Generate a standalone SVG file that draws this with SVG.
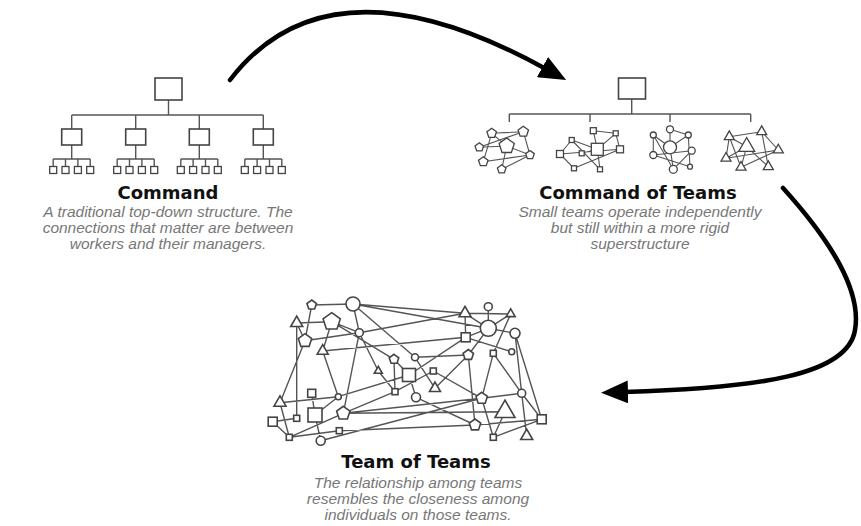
<svg xmlns="http://www.w3.org/2000/svg" width="861" height="526" viewBox="0 0 861 526">
<style>
.bg{fill:#fff}
.ln{stroke:#555;stroke-width:1.4;fill:none}
.nd{fill:#fff;stroke:#444;stroke-width:1.6}
.nds{fill:#fff;stroke:#444;stroke-width:1.3}
.arrow{stroke:#000;stroke-width:4.5;fill:none;stroke-linecap:round}
.title{font-family:"DejaVu Sans",sans-serif;font-weight:bold;font-size:18px;fill:#111;text-anchor:middle}
.sub{font-family:"Liberation Sans",Arial,sans-serif;font-style:italic;font-size:15.5px;fill:#777;text-anchor:middle}
</style>
<defs>
<marker id="ah" markerUnits="userSpaceOnUse" markerWidth="27" markerHeight="23" viewBox="0 0 27 23" refX="4" refY="11.5" orient="auto">
<path d="M0,0 L27,11.5 L0,23 z" fill="#000"/>
</marker>
</defs>
<rect class="bg" x="0" y="0" width="861" height="526"/>

<g id="connectors">
<!-- big arrows -->
<path class="arrow" d="M230,80 Q330,-50 546,69" marker-end="url(#ah)"/>
<path class="arrow" d="M783,188 C830,240 862,290 855,330 C848,375 760,388 624,392" marker-end="url(#ah)"/>

<!-- Command tree -->
<path class="ln" d="M168.5,100 V115 M71.7,115 H263.3 M71.7,115 V129 M135.7,115 V129 M199.3,115 V129 M263.3,115 V129"/>
<path class="ln" d="M71.7,145 V159 M53.2,159 H90.2 M53.2,159 V166.5 M65.5,159 V166.5 M77.9,159 V166.5 M90.2,159 V166.5"/>
<path class="ln" d="M135.7,145 V159 M117.2,159 H154.2 M117.2,159 V166.5 M129.5,159 V166.5 M141.9,159 V166.5 M154.2,159 V166.5"/>
<path class="ln" d="M199.3,145 V159 M180.8,159 H217.8 M180.8,159 V166.5 M193.1,159 V166.5 M205.5,159 V166.5 M217.8,159 V166.5"/>
<path class="ln" d="M263.3,145 V159 M244.8,159 H281.8 M244.8,159 V166.5 M257.1,159 V166.5 M269.5,159 V166.5 M281.8,159 V166.5"/>

<!-- Command of Teams tree -->
<path class="ln" d="M631.7,99 V114 M509.3,114 H750.7 M509.3,114 V122 M590,114 V122 M670,114 V122 M750.7,114 V122"/>

<!-- cluster 1 pentagons -->
<path class="ln" style="stroke-width:1.1" d="M491.7,133.3 L523.3,131.7 M491.7,133.3 L506.7,146 M479.3,147.3 L506.7,146 M506.7,146 L530,155 M491.7,133.3 L483.3,161.7 M523.3,131.7 L530,155 M483.3,161.7 L530,155 M501.7,169.3 L530,155 M506.7,146 L501.7,169.3 M479.3,147.3 L523.3,131.7"/>
<!-- cluster 2 squares -->
<path class="ln" style="stroke-width:1.1" d="M593.3,130.7 L615.7,133.3 M593.3,130.7 L597.3,149.3 M571.7,140 L597.3,149.3 M571.7,140 L560,154 M560,154 L620,149.3 M615.7,133.3 L620,149.3 M574,168.3 L620,149.3 M597.3,149.3 L600,169.3 M571.7,140 L600,169.3 M560,154 L574,168.3 M581.7,153.3 L597.3,149.3 M615.7,133.3 L597.3,149.3"/>
<!-- cluster 3 circles -->
<path class="ln" style="stroke-width:1.1" d="M670,129.3 L670,147.3 M653.3,135 L670,147.3 M688.3,135 L670,147.3 M653.3,135 L653.3,155 M653.3,155 L691.7,150.7 M670,147.3 L673.3,169.3 M688.3,135 L690,166.7 M691.7,150.7 L673.3,169.3 M670,129.3 L688.3,135 M653.3,155 L690,166.7 M653.3,135 L673.3,169.3"/>
<!-- cluster 4 triangles -->
<path class="ln" style="stroke-width:1.1" d="M729.3,136.7 L761.7,131.7 M729.3,136.7 L741,167.3 M761.7,131.7 L778.3,150 M761.7,131.7 L768.3,166.7 M726,158.3 L778.3,150 M726,158.3 L746.7,146.7 M746.7,146.7 L741,167.3 M741,167.3 L778.3,150 M746.7,146.7 L768.3,166.7 M729.3,136.7 L726,158.3 M729.3,136.7 L746.7,146.7"/>

<!-- Team of Teams network -->
<path class="ln" d="M311.7,305 L353,304 M311.7,305 L305,340.7 M296.7,323 L331.7,321.7 M353,304 L359.3,332.7 M353,304 L465,313.3 M353,304 L415,357.3 M353,304 L488.3,328.3 M331.7,321.7 L359.3,332.7 M359.3,332.7 L465,313.3 M305,340.7 L359.3,332.7 M322.7,351 L465.7,337.3 M331.7,321.7 L322.7,351 M331.7,321.7 L394,359.3 M359.3,332.7 L378.3,371 M322.7,351 L338.3,396.7 M359.3,332.7 L343.3,413.3 M305,340.7 L280,402.7 M296.7,323 L296.7,418.3 M394,359.3 L409,375 M394,359.3 L395,391.7 M378.3,371 L395,391.7 M338.3,396.7 L409,375 M315,415 L338.3,396.7 M395,391.7 L343.3,413.3 M280,402.7 L338.3,396.7 M272.7,421.7 L296.7,418.3 M315,415 L320.7,440.7 M289.3,437.3 L343.3,413.3 M289.3,437.3 L339.3,430.7 M272.7,421.7 L289.3,437.3 M280,402.7 L289.3,437.3 M343.3,413.3 L481.7,398.3 M339.3,430.7 L475,425 M320.7,440.7 L481.7,398.3 M465,313.3 L510.7,314 M488.3,306.7 L488.3,328.3 M465,313.3 L488.3,328.3 M465,313.3 L465.7,337.3 M510.7,314 L488.3,328.3 M510.7,314 L493.3,353.3 M488.3,328.3 L515,333.3 M488.3,328.3 L465.7,337.3 M488.3,328.3 L468.3,355 M465.7,337.3 L511.7,351.7 M515,333.3 L541.7,419.3 M515,333.3 L521.7,393.3 M468.3,355 L475,425 M493.3,353.3 L481.7,398.3 M493.3,353.3 L521.7,393.3 M415,357.3 L468.3,355 M415,357.3 L435,388.3 M409,375 L416,397.3 M433.3,371 L481.7,398.3 M435,388.3 L468.3,355 M416,397.3 L475,425 M481.7,398.3 L521.7,393.3 M481.7,398.3 L493.3,437.3 M521.7,393.3 L541.7,419.3 M521.7,393.3 L526.7,436 M505,411.7 L493.3,437.3 M541.7,419.3 L475,425 M541.7,419.3 L493.3,437.3 M311.7,393.3 L315,415 M395,391.7 L433.3,371 M409,375 L465.7,337.3 M296.7,323 L305,340.7 M343.3,413.3 L505,411.7"/>
</g>

<g id="command">
<rect class="nd" x="155" y="78" width="27" height="22"/>
<rect class="nd" x="61.7" y="129" width="20" height="16"/>
<rect class="nd" x="125.7" y="129" width="20" height="16"/>
<rect class="nd" x="189.3" y="129" width="20" height="16"/>
<rect class="nd" x="253.3" y="129" width="20" height="16"/>
<g class="nds">
<rect x="49.7" y="166.5" width="7" height="7"/><rect x="62" y="166.5" width="7" height="7"/><rect x="74.4" y="166.5" width="7" height="7"/><rect x="86.7" y="166.5" width="7" height="7"/>
<rect x="113.7" y="166.5" width="7" height="7"/><rect x="126" y="166.5" width="7" height="7"/><rect x="138.4" y="166.5" width="7" height="7"/><rect x="150.7" y="166.5" width="7" height="7"/>
<rect x="177.3" y="166.5" width="7" height="7"/><rect x="189.6" y="166.5" width="7" height="7"/><rect x="202" y="166.5" width="7" height="7"/><rect x="214.3" y="166.5" width="7" height="7"/>
<rect x="241.3" y="166.5" width="7" height="7"/><rect x="253.6" y="166.5" width="7" height="7"/><rect x="266" y="166.5" width="7" height="7"/><rect x="278.3" y="166.5" width="7" height="7"/>
</g>
<text class="title" x="168" y="199">Command</text>
<text class="sub" x="168" y="217">A traditional top-down structure. The</text>
<text class="sub" x="168" y="233">connections that matter are between</text>
<text class="sub" x="168" y="249">workers and their managers.</text>
</g>

<g id="command-of-teams">
<rect class="nd" x="618.5" y="78" width="27" height="21"/>
<g class="nds">
<polygon points="506.7,138 514.3,143.5 511.4,152.5 502,152.5 499.1,143.5"/>
<polygon points="491.7,128.3 496.5,131.8 494.6,137.3 488.8,137.3 486.9,131.8"/>
<polygon points="523.3,126.2 528.5,130 526.5,136.1 520.1,136.1 518.1,130"/>
<polygon points="479.3,142.8 483.6,145.9 482,150.9 476.7,150.9 475,145.9"/>
<polygon points="530,150.5 534.3,153.6 532.6,158.6 527.4,158.6 525.7,153.6"/>
<polygon points="483.3,156.7 488.1,160.2 486.2,165.7 480.4,165.7 478.5,160.2"/>
<polygon points="501.7,164.8 506,167.9 504.3,172.9 499.1,172.9 497.4,167.9"/>

<rect x="591.3" y="143.3" width="12" height="12"/>
<rect x="590.3" y="127.7" width="6" height="6"/>
<rect x="569.2" y="137.5" width="5" height="5"/>
<rect x="613.2" y="130.8" width="5" height="5"/>
<rect x="616.5" y="145.8" width="7" height="7"/>
<rect x="556.5" y="150.5" width="7" height="7"/>
<rect x="579.2" y="150.8" width="5" height="5"/>
<rect x="571.5" y="165.8" width="5" height="5"/>
<rect x="597.5" y="166.8" width="5" height="5"/>

<circle cx="670" cy="147.3" r="6.5"/>
<circle cx="670" cy="129.3" r="3.5"/>
<circle cx="653.3" cy="135" r="3"/>
<circle cx="688.3" cy="135" r="3"/>
<circle cx="653.3" cy="155" r="3.5"/>
<circle cx="691.7" cy="150.7" r="3.5"/>
<circle cx="673.3" cy="169.3" r="4"/>
<circle cx="690" cy="166.7" r="2.5"/>

<polygon points="746.7,137.5 738.7,151.3 754.7,151.3"/>
<polygon points="729.3,130.9 724.3,139.6 734.3,139.6"/>
<polygon points="761.7,125.9 756.7,134.6 766.7,134.6"/>
<polygon points="778.3,144.2 773.3,152.9 783.3,152.9"/>
<polygon points="726,152.5 721,161.2 731,161.2"/>
<polygon points="741,161.5 736,170.2 746,170.2"/>
<polygon points="768.3,160.9 763.3,169.6 773.3,169.6"/>
</g>
<text class="title" x="638" y="199">Command of Teams</text>
<text class="sub" x="640" y="217">Small teams operate independently</text>
<text class="sub" x="640" y="233">but still within a more rigid</text>
<text class="sub" x="640" y="249">superstructure</text>
</g>

<g id="team-of-teams">
<g class="nd">
<polygon points="311.7,300 316.5,303.5 314.6,309 308.8,309 306.9,303.5"/>
<polygon points="331.7,312.7 340.3,318.9 337,329 326.4,329 323.1,318.9"/>
<polygon points="305,333.7 311.7,338.5 309.1,346.4 300.9,346.4 298.3,338.5"/>
<polygon points="394,354.3 398.8,357.8 396.9,363.3 391.1,363.3 389.2,357.8"/>
<polygon points="343.3,406.3 350,411.1 347.4,419 339.2,419 336.6,411.1"/>
<polygon points="468.3,349.5 473.5,353.3 471.5,359.4 465.1,359.4 463.1,353.3"/>
<polygon points="481.7,392.3 487.4,396.4 485.2,403.2 478.2,403.2 476,396.4"/>
<polygon points="475,419 480.7,423.1 478.5,429.9 471.5,429.9 469.3,423.1"/>

<polygon points="296.7,316.1 290.7,326.5 302.7,326.5"/>
<polygon points="322.7,344.7 317.2,354.2 328.2,354.2"/>
<polygon points="378.3,366.4 374.3,373.3 382.3,373.3"/>
<polygon points="280,395.8 274,406.2 286,406.2"/>
<polygon points="435,382 429.5,391.5 440.5,391.5"/>
<polygon points="465,306.4 459,316.8 471,316.8"/>
<polygon points="510.7,308.8 506.2,316.6 515.2,316.6"/>
<polygon points="505,400.2 495,417.5 515,417.5"/>
<polygon points="526.7,429.1 520.7,439.5 532.7,439.5"/>

<rect x="402.5" y="368.5" width="13" height="13"/>
<rect x="392" y="388.7" width="6" height="6"/>
<rect x="307.7" y="389.3" width="8" height="8"/>
<rect x="293.7" y="415.3" width="6" height="6"/>
<rect x="308" y="408" width="14" height="14"/>
<rect x="268.2" y="417.2" width="9" height="9"/>
<rect x="286.3" y="434.3" width="6" height="6"/>
<rect x="336.3" y="427.7" width="6" height="6"/>
<rect x="430.3" y="368" width="6" height="6"/>
<rect x="461.2" y="332.8" width="9" height="9"/>
<rect x="490.3" y="350.3" width="6" height="6"/>
<rect x="537.2" y="414.8" width="9" height="9"/>
<rect x="490.3" y="434.3" width="6" height="6"/>

<circle cx="353" cy="304" r="7"/>
<circle cx="359.3" cy="332.7" r="4"/>
<circle cx="338.3" cy="396.7" r="3"/>
<circle cx="320.7" cy="440.7" r="4.5"/>
<circle cx="415" cy="357.3" r="3.5"/>
<circle cx="416" cy="397.3" r="4.5"/>
<circle cx="488.3" cy="306.7" r="4"/>
<circle cx="488.3" cy="328.3" r="8"/>
<circle cx="515" cy="333.3" r="5"/>
<circle cx="511.7" cy="351.7" r="3"/>
<circle cx="521.7" cy="393.3" r="4"/>
</g>
<text class="title" x="416" y="468">Team of Teams</text>
<text class="sub" x="418" y="488">The relationship among teams</text>
<text class="sub" x="418" y="504">resembles the closeness among</text>
<text class="sub" x="418" y="520">individuals on those teams.</text>
</g>
</svg>
